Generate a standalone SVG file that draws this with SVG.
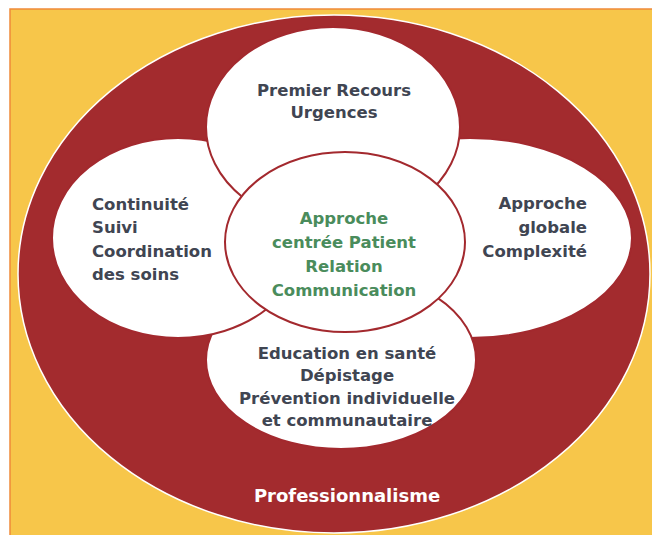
<svg xmlns="http://www.w3.org/2000/svg" width="652" height="535" viewBox="0 0 652 535">
  <style>
    .petal { fill: #FFFFFF; stroke: #A3292E; stroke-width: 2; }
    .lbl { font-family: "DejaVu Sans", "Liberation Sans", sans-serif; font-weight: bold; font-size: 16.5px; fill: #404552; }
    .ctr { font-family: "DejaVu Sans", "Liberation Sans", sans-serif; font-weight: bold; font-size: 16.5px; fill: #4A8C5C; text-anchor: middle; }
    .mid { text-anchor: middle; }
    .end { text-anchor: end; }
  </style>
  <rect x="0" y="0" width="652" height="535" fill="#FFFFFF"/>
  <rect x="10" y="9" width="660" height="540" fill="#F7C64A" stroke="#F08A3A" stroke-width="1.5"/>
  <g id="outer">
    <ellipse cx="334" cy="274" rx="316" ry="259" fill="#A32B2E" stroke="#FFFFFF" stroke-width="1.5"/>
    <text x="347" y="502" text-anchor="middle" font-family="DejaVu Sans, Liberation Sans, sans-serif" font-weight="bold" font-size="18" fill="#FFFFFF">Professionnalisme</text>
  </g>
  <g id="connectors"></g>
  <g id="right">
    <ellipse class="petal" cx="470" cy="238" rx="162" ry="100"/>
    <text class="lbl end" x="587"><tspan x="587" y="209">Approche</tspan><tspan x="587" y="233">globale</tspan><tspan x="587" y="257">Complexité</tspan></text>
  </g>
  <g id="bottom">
    <ellipse class="petal" cx="341" cy="360" rx="135" ry="89"/>
    <text class="lbl mid"><tspan x="347" y="359">Education en santé</tspan><tspan x="347" y="381">Dépistage</tspan><tspan x="347" y="404">Prévention individuelle</tspan><tspan x="347" y="426">et communautaire</tspan></text>
  </g>
  <g id="left">
    <ellipse class="petal" cx="178" cy="238" rx="126" ry="100"/>
    <text class="lbl"><tspan x="92" y="210">Continuité</tspan><tspan x="92" y="233">Suivi</tspan><tspan x="92" y="257">Coordination</tspan><tspan x="92" y="280">des soins</tspan></text>
  </g>
  <g id="top">
    <ellipse class="petal" cx="333" cy="127" rx="127" ry="100"/>
    <text class="lbl mid"><tspan x="334" y="96">Premier Recours</tspan><tspan x="334" y="118">Urgences</tspan></text>
  </g>
  <g id="center">
    <ellipse class="petal" cx="345" cy="242" rx="120" ry="90"/>
    <text class="ctr"><tspan x="344" y="224">Approche</tspan><tspan x="344" y="248">centrée Patient</tspan><tspan x="344" y="272">Relation</tspan><tspan x="344" y="296">Communication</tspan></text>
  </g>
</svg>
